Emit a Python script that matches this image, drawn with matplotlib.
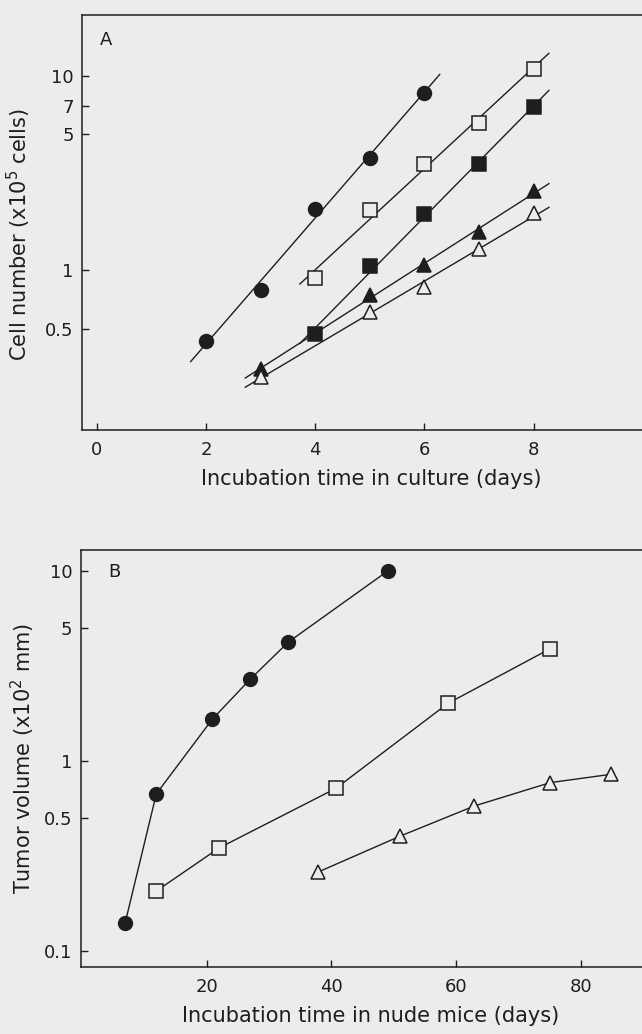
import matplotlib.pyplot as plt
import numpy as np

# panel A: cell growth in culture (x10^5 cells)
days_a = np.array([2, 3, 4, 5, 6, 7, 8])
circle_filled_a = [0.43, 0.79, 2.07, 3.80, 8.2, None, None]
square_open_a = [None, None, 0.91, 2.04, 3.53, 5.74, 10.9]
square_filled_a = [None, None, 0.47, 1.05, 1.95, 3.52, 6.9]
tri_filled_a = [None, 0.31, None, 0.745, 1.06, 1.57, 2.56]
tri_open_a = [None, 0.282, None, 0.61, 0.82, 1.28, 1.96]

# panel B: tumor growth in nude mice (x10^2 mm)
days_circle_b = [6.9, 11.9, 20.9, 27.0, 33.1, 49.0]
circle_filled_b = [0.14, 0.67, 1.66, 2.70, 4.23, 10.0]
days_square_b = [11.8, 22.0, 40.7, 58.7, 75.1]
square_open_b = [0.205, 0.348, 0.716, 2.01, 3.90]
days_tri_b = [37.8, 51.0, 62.9, 75.1, 84.9]
tri_open_b = [0.259, 0.401, 0.578, 0.768, 0.85]

ink = '#1e1e1e'
bg = '#ececec'

plt.rcParams['font.family'] = 'DejaVu Sans'
plt.rcParams['font.size'] = 15

fig = plt.figure(figsize=(6.42, 10.34), dpi=100, facecolor=bg)


def style_axes(ax):
    ax.set_facecolor(bg)
    ax.set_yscale('log')
    for s in ax.spines.values():
        s.set_color(ink)
        s.set_linewidth(1.1)
    ax.tick_params(axis='both', direction='in', length=5, width=1.0,
                   color=ink, labelcolor=ink, labelsize=13)
    ax.tick_params(axis='x', pad=8)
    ax.tick_params(axis='y', pad=6)
    ax.minorticks_off()


def fit_line(ax, x, y, pad=0.28):
    # straight regression line on the log axis, a little past the points
    x = np.asarray(x, float)
    y = np.asarray([np.nan if v is None else v for v in y], float)
    ok = ~np.isnan(y)
    k, b = np.polyfit(x[ok], np.log10(y[ok]), 1)
    xs = np.array([x[ok].min() - pad, x[ok].max() + pad])
    ax.plot(xs, 10 ** (k * xs + b), color=ink, lw=1.0, zorder=2)
    return x[ok], y[ok]


# ---- panel A
axA = fig.add_axes([0.1277, 0.5841, 0.90, 0.4014])
style_axes(axA)
for vals, m, fill in [(circle_filled_a, 'o', True), (square_open_a, 's', False),
                      (square_filled_a, 's', True), (tri_filled_a, '^', True),
                      (tri_open_a, '^', False)]:
    xs, ys = fit_line(axA, days_a, vals)
    axA.plot(xs, ys, marker=m, ls='none', mfc=ink if fill else bg, mec=ink,
             ms=9.5 if m == 's' else 10, markeredgewidth=1.1, zorder=3)
axA.set_xlim(-0.27, 10.31)
axA.set_ylim(0.15, 20.6)
axA.set_xticks([0, 2, 4, 6, 8])
axA.set_yticks([0.5, 1, 5, 7, 10])
axA.set_yticklabels(['0.5', '1', '5', '7', '10'])
axA.set_xlabel('Incubation time in culture (days)', color=ink, labelpad=7)
axA.set_ylabel('Cell number (x10$^5$ cells)', color=ink)
axA.yaxis.set_label_coords(-0.085, 0.47)
axA.text(0.031, 0.94, 'A', transform=axA.transAxes, color=ink,
         fontsize=13, ha='left', va='center')

# ---- panel B
axB = fig.add_axes([0.126, 0.0648, 0.902, 0.4032])
style_axes(axB)
axB.plot(days_circle_b, circle_filled_b, color=ink, lw=1.0, marker='o',
         ms=10, mfc=ink, mec=ink, zorder=3)
axB.plot(days_square_b, square_open_b, color=ink, lw=1.0, marker='s',
         ms=9.5, mfc=bg, mec=ink, markeredgewidth=1.1, zorder=3)
axB.plot(days_tri_b, tri_open_b, color=ink, lw=1.0, marker='^',
         ms=10, mfc=bg, mec=ink, markeredgewidth=1.1, zorder=3)
axB.set_xlim(-0.2, 92.7)
axB.set_ylim(0.082, 12.9)
axB.set_xticks([20, 40, 60, 80])
axB.set_yticks([0.1, 0.5, 1, 5, 10])
axB.set_yticklabels(['0.1', '0.5', '1', '5', '10'])
axB.set_xlabel('Incubation time in nude mice (days)', color=ink, labelpad=7)
axB.set_ylabel('Tumor volume (x10$^2$ mm)', color=ink)
axB.yaxis.set_label_coords(-0.075, 0.5)
axB.text(0.047, 0.947, 'B', transform=axB.transAxes, color=ink,
         fontsize=13, ha='left', va='center')

fig.savefig('out.png', dpi=100, facecolor=bg)
